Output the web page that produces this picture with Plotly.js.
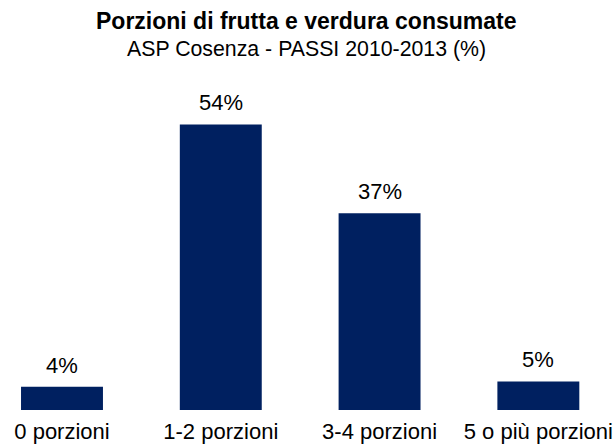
<!DOCTYPE html>
<html>
<head>
<meta charset="utf-8">
<script src="https://cdn.plot.ly/plotly-3.0.1.min.js"></script>
<style>
  html, body { margin: 0; padding: 0; background: #ffffff; }
  #chart { width: 616px; height: 444px; }
</style>
</head>
<body>
<div id="chart"></div>
<script>
const categories = ['0 porzioni', '1-2 porzioni', '3-4 porzioni', '5 o più porzioni'];
const values = [4.4, 54.0, 37.2, 5.4];
const titleText = 'Porzioni di frutta e verdura consumate';
const subtitleText = 'ASP Cosenza - PASSI 2010-2013 (%)';

const FONT = 'Liberation Sans, Arial, sans-serif';
const barColor = '#002060';

const labelAnnotations = categories.map((c, i) => ({
  x: c,
  y: values[i],
  xref: 'x',
  yref: 'y',
  text: Math.round(values[i]) + '%',
  showarrow: false,
  yanchor: 'bottom',
  yshift: 7,
  font: { family: FONT, size: 22, color: '#000000' }
}));

const data = [{
  type: 'bar',
  x: categories,
  y: values,
  width: 0.516,
  marker: { color: barColor, line: { width: 0 } },
  hoverinfo: 'skip'
}];

const layout = {
  width: 616,
  height: 444,
  margin: { l: 0, r: 0, t: 90, b: 34, pad: 0 },
  paper_bgcolor: '#ffffff',
  plot_bgcolor: '#ffffff',
  showlegend: false,
  font: { family: FONT, color: '#000000' },
  xaxis: {
    type: 'category',
    range: [-0.3904, 3.489],
    showgrid: false,
    zeroline: false,
    showline: false,
    ticks: '',
    ticklabelstandoff: 6,
    automargin: false,
    tickfont: { family: FONT, size: 22, color: '#000000' }
  },
  yaxis: {
    range: [0, 60.5],
    visible: false,
    showgrid: false,
    zeroline: false,
    automargin: false
  },
  annotations: labelAnnotations.concat([
    {
      xref: 'paper', yref: 'paper', x: 0.497, y: 1.2156,
      xanchor: 'center', yanchor: 'middle', showarrow: false,
      text: '<b>' + titleText + '</b>',
      font: { family: FONT, size: 23, color: '#000000' }
    },
    {
      xref: 'paper', yref: 'paper', x: 0.497, y: 1.129,
      xanchor: 'center', yanchor: 'middle', showarrow: false,
      text: subtitleText,
      font: { family: FONT, size: 21.3, color: '#000000' }
    }
  ])
};

Plotly.newPlot('chart', data, layout, { displayModeBar: false, staticPlot: true });
</script>
</body>
</html>
